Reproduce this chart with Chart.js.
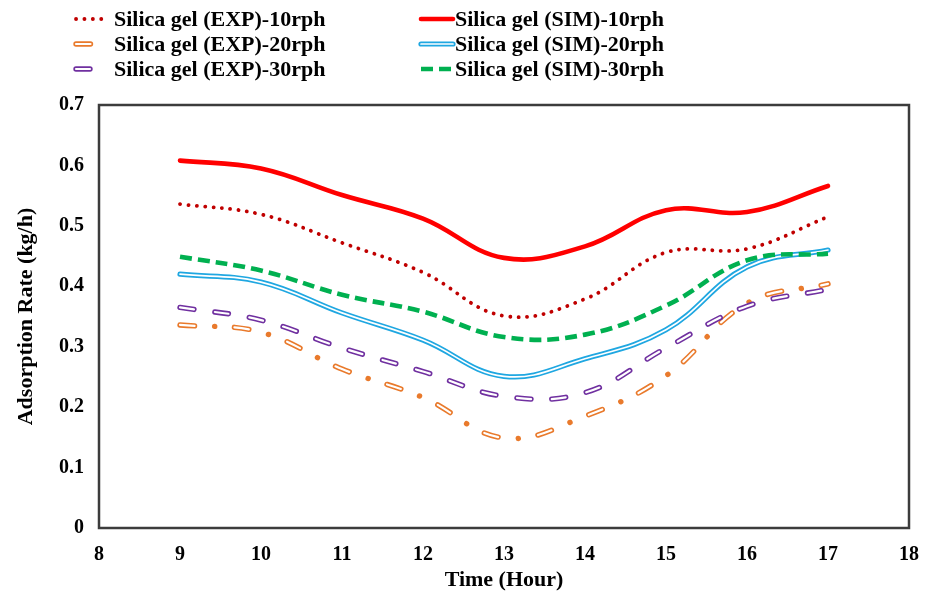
<!DOCTYPE html>
<html>
<head>
<meta charset="utf-8">
<script src="https://cdn.jsdelivr.net/npm/chart.js@4.4.0/dist/chart.umd.min.js"></script>
<style>
  body { margin: 0; background: #fff; }
  #wrap { width: 935px; height: 596px; }
</style>
</head>
<body>
<div id="wrap"><canvas id="chart" width="935" height="596"></canvas></div>
<script>
// values (kg/h per hour of day)
const hours = [9, 10, 11, 12, 13, 14, 15, 16, 17];
const expRate10 = [0.536, 0.519, 0.472, 0.423, 0.351, 0.379, 0.456, 0.462, 0.515];
const simRate10 = [0.608, 0.595, 0.551, 0.512, 0.447, 0.466, 0.526, 0.523, 0.566];
const expRate20 = [0.336, 0.324, 0.263, 0.216, 0.149, 0.185, 0.252, 0.372, 0.404];
const simRate20 = [0.420, 0.407, 0.356, 0.311, 0.251, 0.280, 0.328, 0.432, 0.460];
const expRate30 = [0.365, 0.344, 0.298, 0.259, 0.218, 0.224, 0.298, 0.367, 0.395];
const simRate30 = [0.449, 0.426, 0.386, 0.358, 0.316, 0.320, 0.368, 0.443, 0.454];

const seriesLabels = [
  'Silica gel (EXP)-10rph', 'Silica gel (EXP)-20rph', 'Silica gel (EXP)-30rph',
  'Silica gel (SIM)-10rph', 'Silica gel (SIM)-20rph', 'Silica gel (SIM)-30rph'
];

const toPoints = arr => hours.map((h, i) => ({ x: h, y: arr[i] }));

const serif = '"Liberation Serif", "Times New Roman", serif';

// main stroke + optional white inner stroke (for the hollow / double lines)
const styles = [
  { color: '#C00000', width: 3.8, dash: [0.1, 8.3], cap: 'round' },
  { color: '#E97A2C', width: 5.4, dash: [14.5, 20, 0.1, 20], cap: 'round', inner: { width: 2.2, dash: [14.5, 40.1] } },
  { color: '#7030A0', width: 5.4, dash: [14, 21], cap: 'round', inner: { width: 2.2, dash: [14, 21] } },
  { color: '#FF0000', width: 4.6, dash: [], cap: 'round' },
  { color: '#1FA7E1', width: 5.2, dash: [], cap: 'round', inner: { width: 1.7, dash: [] } },
  { color: '#00B050', width: 4.6, dash: [12, 6], cap: 'butt' }
];
const seriesData = [expRate10, expRate20, expRate30, simRate10, simRate20, simRate30];

const datasets = [];
seriesData.forEach((vals, i) => {
  const s = styles[i];
  datasets.push({
    label: seriesLabels[i],
    data: toPoints(vals),
    borderColor: s.color,
    borderWidth: s.width,
    borderDash: s.dash,
    borderCapStyle: s.cap,
    pointRadius: 0,
    tension: 0.4,
    fill: false,
    order: 10 - i * 2
  });
  if (s.inner) {
    datasets.push({
      label: '_inner',
      data: toPoints(vals),
      borderColor: '#ffffff',
      borderWidth: s.inner.width,
      borderDash: s.inner.dash,
      borderCapStyle: s.cap,
      pointRadius: 0,
      tension: 0.4,
      fill: false,
      order: 9 - i * 2
    });
  }
});

// frame around the plot area
const frame = {
  id: 'frame',
  afterDatasetsDraw(chart) {
    const { ctx, chartArea: a } = chart;
    ctx.save();
    ctx.strokeStyle = '#3c3c3c';
    ctx.lineWidth = 2.5;
    ctx.strokeRect(a.left, a.top, a.right - a.left, a.bottom - a.top);
    ctx.restore();
  }
};

// two-column legend at the top, like the original
const topLegend = {
  id: 'topLegend',
  afterDraw(chart) {
    const ctx = chart.ctx;
    const cols = [{ x0: 76, x1: 105, tx: 114 }, { x0: 421, x1: 453, tx: 455 }];
    const rows = [19, 44, 69];
    ctx.save();
    ctx.font = 'bold 22px ' + serif;
    ctx.fillStyle = '#000';
    ctx.textBaseline = 'middle';
    seriesLabels.forEach((lab, i) => {
      const c = cols[Math.floor(i / 3)];
      const y = rows[i % 3];
      const s = styles[i];
      ctx.beginPath();
      ctx.strokeStyle = s.color;
      ctx.lineWidth = s.width;
      ctx.setLineDash(s.dash);
      ctx.lineCap = s.cap;
      ctx.moveTo(c.x0, y);
      ctx.lineTo(c.x1, y);
      ctx.stroke();
      if (s.inner) {
        ctx.beginPath();
        ctx.strokeStyle = '#fff';
        ctx.lineWidth = s.inner.width;
        ctx.setLineDash(s.inner.dash);
        ctx.moveTo(c.x0, y);
        ctx.lineTo(c.x1, y);
        ctx.stroke();
      }
      ctx.setLineDash([]);
      ctx.fillText(lab, c.tx, y + 1);
    });
    ctx.restore();
  }
};

new Chart(document.getElementById('chart').getContext('2d'), {
  type: 'line',
  data: { datasets: datasets },
  options: {
    responsive: false,
    animation: false,
    layout: { padding: { top: 105, right: 26, left: 0, bottom: 0 } },
    plugins: {
      legend: { display: false },
      tooltip: { enabled: false }
    },
    scales: {
      x: {
        type: 'linear',
        min: 8,
        max: 18,
        afterFit: scale => { scale.height = 68; },
        grid: { display: false, drawTicks: false },
        border: { display: false },
        ticks: {
          stepSize: 1,
          padding: 15,
          color: '#000',
          font: { family: serif, size: 20, weight: 'bold' }
        },
        title: {
          display: true,
          text: 'Time (Hour)',
          color: '#000',
          font: { family: serif, size: 22, weight: 'bold' },
          padding: { top: 0, bottom: 2 }
        }
      },
      y: {
        min: 0,
        max: 0.7,
        afterFit: scale => { scale.width = 99; },
        grid: { display: false, drawTicks: false },
        border: { display: false },
        ticks: {
          stepSize: 0.1,
          padding: 15,
          color: '#000',
          font: { family: serif, size: 20, weight: 'bold' },
          callback: v => Math.round(v * 10) / 10
        },
        title: {
          display: true,
          text: 'Adsorption Rate (kg/h)',
          color: '#000',
          font: { family: serif, size: 22, weight: 'bold' },
          padding: { top: 13, bottom: 0 }
        }
      }
    }
  },
  plugins: [frame, topLegend]
});
</script>
</body>
</html>
